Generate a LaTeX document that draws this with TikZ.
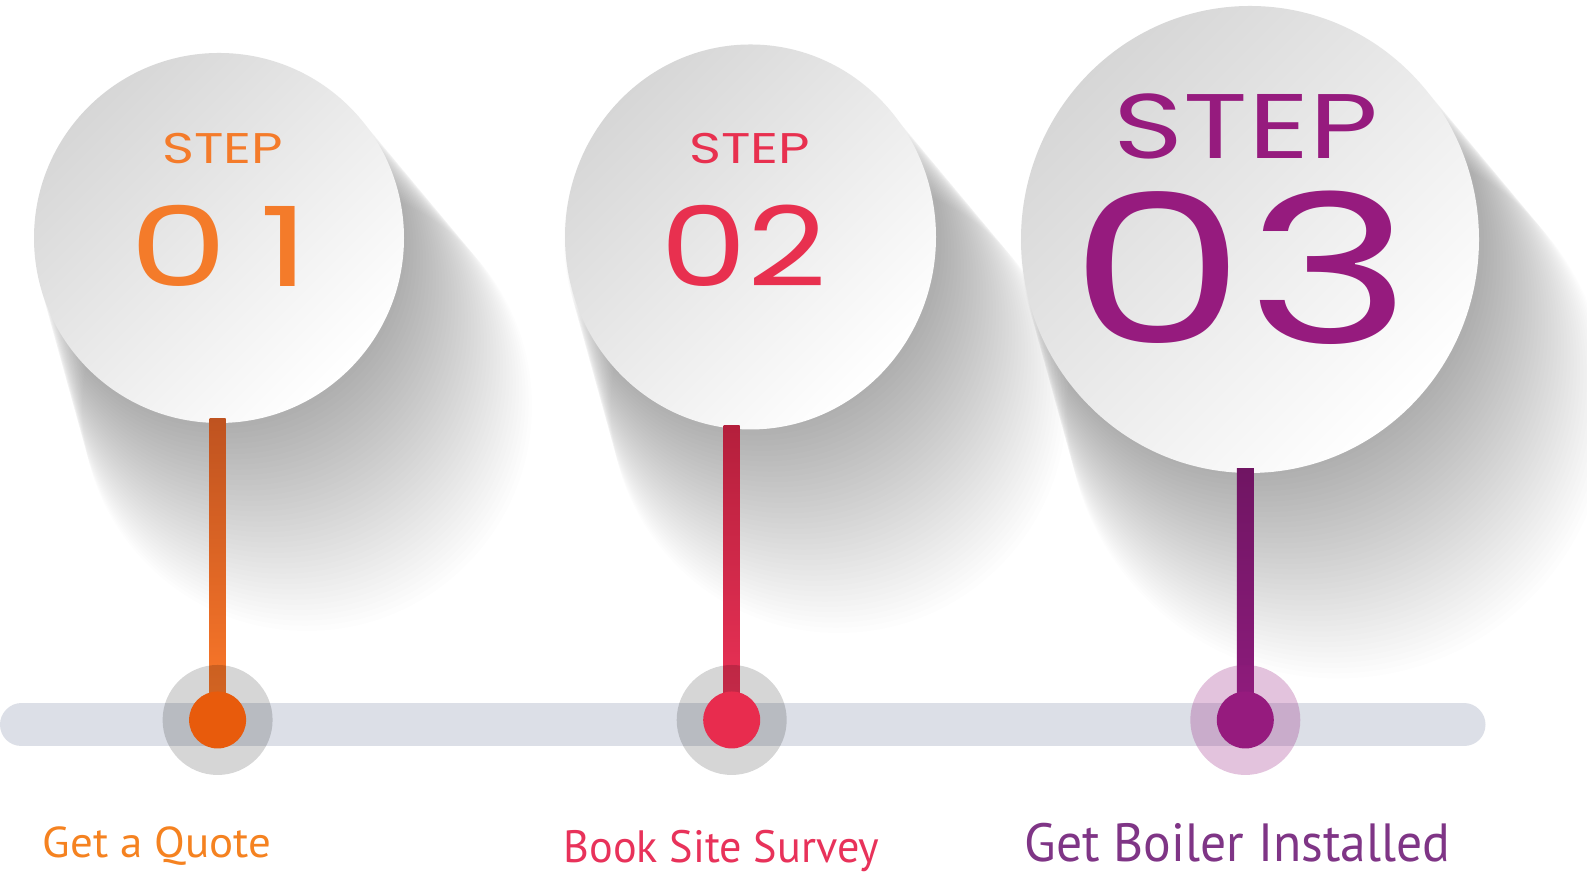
\documentclass[tikz,border=0pt]{standalone}
\usepackage{fontspec}
\usetikzlibrary{calc,shapes.geometric}
\newfontfamily\stepfont{Poppins}
\newfontfamily\lblfont{PT Sans}

\definecolor{orangetxt}{HTML}{F47B2A}
\definecolor{orangedot}{HTML}{E85B0C}
\definecolor{orangetop}{HTML}{BF5320}
\definecolor{orangebot}{HTML}{FF7A2A}
\definecolor{pinktxt}{HTML}{E8304F}
\definecolor{pinkdot}{HTML}{E82C4E}
\definecolor{pinktop}{HTML}{B41F3C}
\definecolor{pinkbot}{HTML}{EE3358}
\definecolor{purpletxt}{HTML}{961B7E}
\definecolor{purpletop}{HTML}{701563}
\definecolor{purplebot}{HTML}{8E1C7D}
\definecolor{orangelbl}{HTML}{F58220}
\definecolor{pinklbl}{HTML}{E8325A}
\definecolor{purplelbl}{HTML}{7F3586}
\definecolor{barcol}{HTML}{DCDFE7}

\begin{document}
\begin{tikzpicture}[
    stepcircle/.style={ellipse, inner sep=0pt, top color=black!16, bottom color=white, shading angle=45},
    halo/.style={circle, minimum size=1.10cm, inner sep=0pt, fill=#1, fill opacity=0.16},
    dotnode/.style={circle, minimum size=0.57cm, inner sep=0pt, fill=#1},
    stepword/.style={inner sep=0pt, text=#1},
    steplbl/.style={inner sep=0pt, anchor=base west, text=#1},
    shadowdisc/.style={black, opacity=0.009}
]
\useasboundingbox[fill=white] (0,0) rectangle (15.87,8.76);

% long soft shadows
\foreach \cx/\cy/\r in {2.19/6.38/1.85, 7.505/6.39/1.88, 12.50/6.365/2.31}{
  \foreach \i in {1,...,40}{
    \fill[shadowdisc] ({\cx+\i*0.022}, {\cy-\i*0.042}) circle ({\r+\i*0.01});
  }
}

% timeline bar
\draw[barcol, line width=0.43cm, line cap=round] (0.215,1.51) -- (14.64,1.51);

% circles
\node[stepcircle, minimum width=3.70cm, minimum height=3.70cm] (c1) at (2.19,6.38) {};
\node[stepcircle, minimum width=3.71cm, minimum height=3.85cm] (c2) at (7.505,6.39) {};
\node[stepcircle, minimum width=4.58cm, minimum height=4.67cm] (c3) at (12.50,6.365) {};

\node[stepword=orangetxt, font=\stepfont\fontsize{12.2}{13}\selectfont, xscale=1.27] (s1) at (2.23,7.27) {STEP};
\node[stepword=orangetxt, font=\stepfont\fontsize{31.5}{32}\selectfont, xscale=1.42] (n1) at (2.20,6.30) {0\kern0.2em1};
\node[stepword=pinktxt, font=\stepfont\fontsize{12.2}{13}\selectfont, xscale=1.27] (s2) at (7.50,7.27) {STEP};
\node[stepword=pinktxt, font=\stepfont\fontsize{31.5}{32}\selectfont, xscale=1.25] (n2) at (7.44,6.30) {02};
\node[stepword=purpletxt, font=\stepfont\fontsize{26.1}{27}\selectfont, xscale=1.30] (s3) at (12.46,7.50) {STEP};
\node[stepword=purpletxt, font=\stepfont\fontsize{58.9}{59}\selectfont, xscale=1.36] (n3) at (12.41,6.08) {03};

% dots on the bar
\coordinate (p1) at (2.176,1.56);
\coordinate (p2) at (7.317,1.56);
\coordinate (p3) at (12.453,1.56);

\shade[top color=orangetop, bottom color=orangebot] ($(p1 |- c1.south)+(-0.08,0.05)$) rectangle ($(p1)+(0.08,0)$);
\shade[top color=pinktop, bottom color=pinkbot] ($(p2 |- c2.south)+(-0.08,0.05)$) rectangle ($(p2)+(0.08,0)$);
\shade[top color=purpletop, bottom color=purplebot] ($(p3 |- c3.south)+(-0.085,0.05)$) rectangle ($(p3)+(0.085,0)$);

\node[halo=black] (h1) at (p1) {};
\node[halo=black] (h2) at (p2) {};
\node[halo=purpletxt, fill opacity=0.26] (h3) at (p3) {};
\node[dotnode=orangedot] (d1) at (p1) {};
\node[dotnode=pinkdot] (d2) at (p2) {};
\node[dotnode=purpletxt] (d3) at (p3) {};

% labels
\node[steplbl=orangelbl, font=\lblfont\fontsize{12.3}{14}\selectfont, xscale=1.04] (l1) at (0.42,0.18) {Get a Quote};
\node[steplbl=pinklbl, font=\lblfont\fontsize{12.9}{14}\selectfont, xscale=0.975] (l2) at (5.63,0.13) {Book Site Survey};
\node[steplbl=purplelbl, font=\lblfont\fontsize{15.3}{17}\selectfont, xscale=0.96] (l3) at (10.24,0.14) {Get Boiler Installed};
\end{tikzpicture}
\end{document}
